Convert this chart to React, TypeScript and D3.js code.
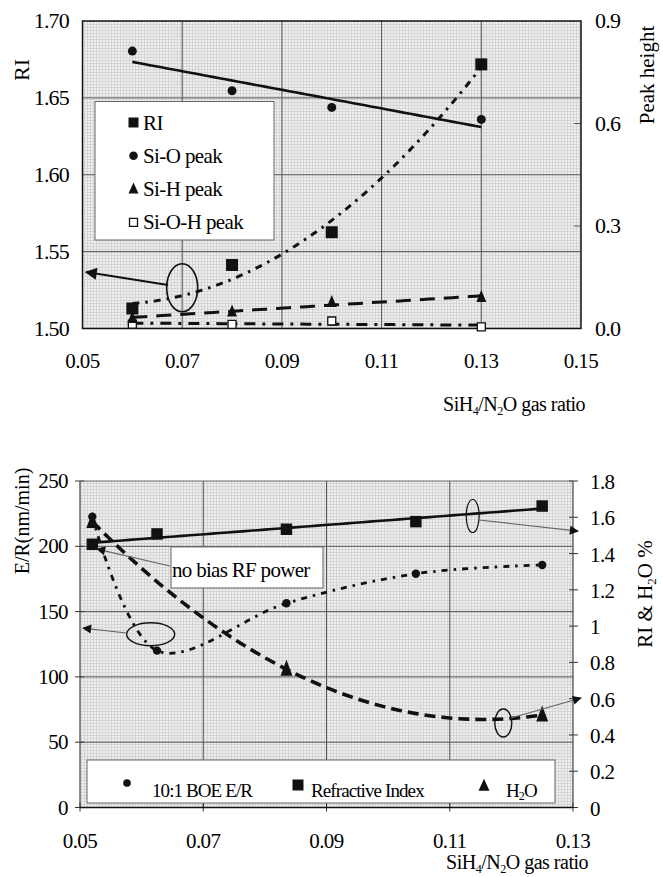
import React from "react";
import * as d3 from "d3";

const FONT = "Liberation Serif, Tinos, Times New Roman, serif";

// ---- upper chart: RI and IR peak heights vs gas ratio ----
const topRatio = [0.06, 0.08, 0.1, 0.13];
const topRI = [1.513, 1.5413, 1.5626, 1.6718];
const topSiO = [0.812, 0.696, 0.647, 0.612];
const topSiH = [0.03, 0.049, 0.0767, 0.0913];
const topSiOH = [0.013, 0.012, 0.022, 0.005];
const topXTicks = [0.05, 0.07, 0.09, 0.11, 0.13, 0.15];
const topRITicks = [1.5, 1.55, 1.6, 1.65, 1.7];
const topPeakTicks = [0, 0.3, 0.6, 0.9];

// ---- lower chart: BOE etch rate, RI, H2O vs gas ratio ----
const botRatio = [0.052, 0.0625, 0.0835, 0.1045, 0.125];
const botER = [222.7, 120.1, 156.4, 179.0, 185.7];
const botRI = [1.451, 1.508, 1.534, 1.576, 1.662];
const h2oRatio = [0.052, 0.0835, 0.125];
const h2oPct = [1.576, 0.762, 0.51];
const botXTicks = [0.05, 0.07, 0.09, 0.11, 0.13];
const botERTicks = [0, 50, 100, 150, 200, 250];
const botRightTicks = [0, 0.2, 0.4, 0.6, 0.8, 1, 1.2, 1.4, 1.6, 1.8];

// least squares polynomial (trend line, like a spreadsheet trendline)
function polyFit(xs: number[], ys: number[], deg: number) {
  const mx = d3.mean(xs) as number;
  const n = deg + 1;
  const A = Array.from({ length: n }, () => new Array(n + 1).fill(0));
  xs.forEach((x, k) => {
    const t = (x - mx) / 0.01;
    for (let i = 0; i < n; i++) {
      for (let j = 0; j < n; j++) A[i][j] += Math.pow(t, i + j);
      A[i][n] += ys[k] * Math.pow(t, i);
    }
  });
  for (let i = 0; i < n; i++) {
    let p = i;
    for (let r = i + 1; r < n; r++) if (Math.abs(A[r][i]) > Math.abs(A[p][i])) p = r;
    const tmp = A[i];
    A[i] = A[p];
    A[p] = tmp;
    for (let r = 0; r < n; r++) {
      if (r === i) continue;
      const f = A[r][i] / A[i][i];
      for (let c = i; c <= n; c++) A[r][c] -= f * A[i][c];
    }
  }
  const coef = A.map((row, i) => row[n] / row[i]);
  return (x: number) => {
    const t = (x - mx) / 0.01;
    return coef.reduce((s, c, i) => s + c * Math.pow(t, i), 0);
  };
}

function sampleFit(f: (x: number) => number, x0: number, x1: number) {
  return d3.range(0, 61).map((i) => {
    const x = x0 + ((x1 - x0) * i) / 60;
    return [x, f(x)] as [number, number];
  });
}

const sq = (x: number, y: number, s: number) => `M${x - s / 2},${y - s / 2}h${s}v${s}h${-s}Z`;
const tri = (x: number, y: number, w: number, h: number) =>
  `M${x},${y - h * 0.6}L${x + w / 2},${y + h * 0.4}L${x - w / 2},${y + h * 0.4}Z`;

const GasRatio = ({ x, y }: { x: number; y: number }) => (
  <text x={x} y={y} textAnchor="end" fontSize={20} fontFamily={FONT} letterSpacing={-0.5}>
    SiH<tspan fontSize={12} dy={4}>4</tspan>
    <tspan dy={-4}>/N</tspan>
    <tspan fontSize={12} dy={4}>2</tspan>
    <tspan dy={-4}>O gas ratio</tspan>
  </text>
);

function TopChart() {
  const x = d3.scaleLinear().domain([0.05, 0.15]).range([82.5, 581]);
  const yL = d3.scaleLinear().domain([1.5, 1.7]).range([328.5, 21]);
  const yR = d3.scaleLinear().domain([0, 0.9]).range([328.5, 21]);
  const [x0, x1] = x.range();
  const [yb, yt] = yL.range();

  const lineL = d3.line<[number, number]>().x((d) => x(d[0])).y((d) => yL(d[1]));
  const lineR = d3.line<[number, number]>().x((d) => x(d[0])).y((d) => yR(d[1]));
  const a = topRatio[0];
  const b = topRatio[topRatio.length - 1];

  const riFit = sampleFit(polyFit(topRatio, topRI, 2), a, b);
  const sioFit = sampleFit(polyFit(topRatio, topSiO, 1), a, b);
  const sihFit = sampleFit(polyFit(topRatio, topSiH, 1), a, b);
  const siohFit = sampleFit(polyFit(topRatio, topSiOH, 1), a, b);

  const legendItems = ["RI", "Si-O peak", "Si-H peak", "Si-O-H peak"];

  return (
    <g>
      <rect x={x0} y={yt} width={x1 - x0} height={yb - yt} fill="url(#halftone)" />
      {topRITicks.slice(1, -1).map((t) => (
        <line key={t} x1={x0} x2={x1} y1={yL(t)} y2={yL(t)} stroke="#555" strokeWidth={1} />
      ))}
      {topXTicks.slice(1, -1).map((t) => (
        <line key={t} x1={x(t)} x2={x(t)} y1={yt} y2={yb} stroke="#555" strokeWidth={1} />
      ))}
      {topPeakTicks.slice(1, -1).map((t) => (
        <line key={t} x1={x1 - 7} x2={x1} y1={yR(t)} y2={yR(t)} stroke="#555" strokeWidth={1} />
      ))}
      <rect x={x0} y={yt} width={x1 - x0} height={yb - yt} fill="none" stroke="#111" strokeWidth={1.5} />

      {/* legend box */}
      <rect x={95} y={101.5} width={179} height={138.5} fill="#fff" stroke="#666" strokeWidth={1} />
      {legendItems.map((t, i) => {
        const cy = 121.5 + i * 33.3;
        return (
          <g key={t}>
            {i === 0 && <path d={sq(133.5, cy + 1, 10)} fill="#111" />}
            {i === 1 && <circle cx={133.5} cy={cy + 1} r={4.3} fill="#111" />}
            {i === 2 && <path d={tri(133.5, cy + 1, 10, 11)} fill="#111" />}
            {i === 3 && <path d={sq(133.5, cy + 1, 8)} fill="#fff" stroke="#111" strokeWidth={1.3} />}
            <text x={143} y={cy + 8} fontSize={21} fontFamily={FONT} letterSpacing={-0.6}>
              {t}
            </text>
          </g>
        );
      })}

      {/* trend lines */}
      <path d={lineR(sioFit) as string} fill="none" stroke="#111" strokeWidth={2.6} />
      <path d={lineL(riFit) as string} fill="none" stroke="#111" strokeWidth={3} strokeDasharray="7 6 2.5 6" />
      <path d={lineR(sihFit) as string} fill="none" stroke="#111" strokeWidth={3} strokeDasharray="15 9" />
      <path d={lineR(siohFit) as string} fill="none" stroke="#111" strokeWidth={3} strokeDasharray="11 7 3 7" />

      {/* markers */}
      {topRatio.map((r, i) => (
        <g key={r}>
          <path d={sq(x(r), yR(topSiOH[i]), 8)} fill="#fff" stroke="#111" strokeWidth={1.3} />
          <path d={tri(x(r), yR(topSiH[i]), 10, 12)} fill="#111" />
          <circle cx={x(r)} cy={yR(topSiO[i])} r={4.5} fill="#111" />
          <path d={sq(x(r), yL(topRI[i]), 12)} fill="#111" />
        </g>
      ))}

      {/* ellipse pointing to the RI axis */}
      <ellipse cx={x(0.07)} cy={yL(1.5265)} rx={15.5} ry={24} fill="none" stroke="#111" strokeWidth={1.6} />
      <line
        x1={x(0.06715)}
        y1={yL(1.5283)}
        x2={x(0.0507)}
        y2={yL(1.5367)}
        stroke="#111"
        strokeWidth={2}
        markerEnd="url(#bigArrow)"
      />

      {/* axes labels */}
      {topRITicks.map((t) => (
        <text key={t} x={69} y={yL(t) + 7} textAnchor="end" fontSize={22} fontFamily={FONT} letterSpacing={-0.8}>
          {t.toFixed(2)}
        </text>
      ))}
      {topPeakTicks.map((t) => (
        <text key={t} x={595} y={yR(t) + 7} fontSize={22} fontFamily={FONT} letterSpacing={-0.8}>
          {t.toFixed(1)}
        </text>
      ))}
      {topXTicks.map((t) => (
        <text key={t} x={x(t)} y={368} textAnchor="middle" fontSize={21} fontFamily={FONT} letterSpacing={-0.6}>
          {t.toFixed(2)}
        </text>
      ))}
      <text transform="translate(29,70) rotate(-90)" textAnchor="middle" fontSize={22} fontFamily={FONT}>
        RI
      </text>
      <text transform="translate(654,75) rotate(-90)" textAnchor="middle" fontSize={21} fontFamily={FONT}>
        Peak height
      </text>
      <GasRatio x={585} y={411} />
    </g>
  );
}

function BottomChart() {
  const x = d3.scaleLinear().domain([0.05, 0.13]).range([80, 573]);
  const yL = d3.scaleLinear().domain([0, 250]).range([807.5, 481]);
  const yR = d3.scaleLinear().domain([0, 1.8]).range([807.5, 481]);
  const [x0, x1] = x.range();
  const [yb, yt] = yL.range();

  const lineR = d3.line<[number, number]>().x((d) => x(d[0])).y((d) => yR(d[1]));
  const erSmooth = d3
    .line<[number, number]>()
    .x((d) => x(d[0]))
    .y((d) => yL(d[1]))
    .curve(d3.curveCardinal.tension(0));

  const a = botRatio[0];
  const b = botRatio[botRatio.length - 1];
  const riFit = sampleFit(polyFit(botRatio, botRI, 1), a, b);
  const h2oFit = sampleFit(polyFit(h2oRatio, h2oPct, 2), h2oRatio[0], h2oRatio[2]);
  const erPts = botRatio.map((r, i) => [r, botER[i]] as [number, number]);

  const thin = { stroke: "#666", strokeWidth: 1.2, markerEnd: "url(#smallArrow)" };

  return (
    <g>
      <rect x={x0} y={yt} width={x1 - x0} height={yb - yt} fill="url(#halftone)" />
      {botERTicks.slice(1, -1).map((t) => (
        <line key={t} x1={x0} x2={x1} y1={yL(t)} y2={yL(t)} stroke="#555" strokeWidth={1} />
      ))}
      {botXTicks.slice(1, -1).map((t) => (
        <line key={t} x1={x(t)} x2={x(t)} y1={yt} y2={yb} stroke="#555" strokeWidth={1} />
      ))}
      {botERTicks.map((t) => (
        <line key={t} x1={x0 - 5} x2={x0 + 4} y1={yL(t)} y2={yL(t)} stroke="#333" strokeWidth={1} />
      ))}
      {botRightTicks.map((t) => (
        <line key={t} x1={x1 - 4} x2={x1 + 5} y1={yR(t)} y2={yR(t)} stroke="#333" strokeWidth={1} />
      ))}
      {botXTicks.map((t) => (
        <line key={t} x1={x(t)} x2={x(t)} y1={yb - 5} y2={yb + 4} stroke="#333" strokeWidth={1} />
      ))}
      <line x1={x0} x2={x0} y1={yt} y2={yb} stroke="#444" strokeWidth={1.2} />
      <line x1={x1} x2={x1} y1={yt} y2={yb} stroke="#444" strokeWidth={1.2} />
      <line x1={x0} x2={x1} y1={yb} y2={yb} stroke="#111" strokeWidth={1.5} />
      <line x1={x0} x2={x1} y1={yt} y2={yt} stroke="#666" strokeWidth={1} />

      {/* legend */}
      <rect x={87} y={760} width={468} height={43} fill="#fff" stroke="#666" strokeWidth={1} />
      <circle cx={127} cy={783} r={3.8} fill="#111" />
      <text x={152} y={797} fontSize={19} fontFamily={FONT} letterSpacing={-0.9}>
        10:1 BOE E/R
      </text>
      <path d={sq(298, 785, 11)} fill="#111" />
      <text x={311} y={797} fontSize={19} fontFamily={FONT} letterSpacing={-0.9}>
        Refractive Index
      </text>
      <path d={tri(484, 786, 11, 12)} fill="#111" />
      <text x={506} y={797} fontSize={19} fontFamily={FONT} letterSpacing={-0.9}>
        H<tspan fontSize={12} dy={3}>2</tspan>
        <tspan dy={-3}>O</tspan>
      </text>

      {/* annotation box */}
      <rect x={x(0.06477)} y={yL(199.5)} width={x(0.08943) - x(0.06477)} height={yL(168.1) - yL(199.5)} fill="#fff" stroke="#666" strokeWidth={1} />
      <text x={x(0.06477) + 1} y={577} fontSize={21} fontFamily={FONT} letterSpacing={-0.7}>
        no bias RF power
      </text>

      {/* trend lines */}
      <path d={lineR(riFit) as string} fill="none" stroke="#111" strokeWidth={2.6} />
      <path d={erSmooth(erPts) as string} fill="none" stroke="#111" strokeWidth={2.8} strokeDasharray="6 6 2.5 6" />
      <path d={lineR(h2oFit) as string} fill="none" stroke="#111" strokeWidth={3.6} strokeDasharray="11 6" />

      {/* markers */}
      {h2oRatio.map((r, i) => (
        <path key={r} d={tri(x(r), yR(h2oPct[i]), 12, 16)} fill="#111" />
      ))}
      {botRatio.map((r, i) => (
        <g key={r}>
          <circle cx={x(r)} cy={yL(botER[i])} r={4.2} fill="#111" />
          <path d={sq(x(r), yR(botRI[i]), 11.5)} fill="#111" />
        </g>
      ))}

      {/* annotation arrows and ellipses */}
      <line x1={x(0.0646)} y1={yL(184.9)} x2={x(0.05276)} y2={yL(197.9)} {...thin} />
      <ellipse cx={x(0.06147)} cy={yL(132.6)} rx={24} ry={11.5} fill="none" stroke="#111" strokeWidth={1.4} />
      <line x1={x(0.05755)} y1={yL(133.6)} x2={x(0.05049)} y2={yL(137.4)} {...thin} />
      <ellipse cx={x(0.11372)} cy={yR(1.607)} rx={6.5} ry={16.5} fill="none" stroke="#111" strokeWidth={1.2} />
      <line x1={x(0.11475)} y1={yR(1.585)} x2={x(0.13081)} y2={yR(1.524)} {...thin} />
      <ellipse cx={x(0.11869)} cy={yR(0.4658)} rx={8.5} ry={14} fill="none" stroke="#111" strokeWidth={1.4} />
      <line x1={x(0.11994)} y1={yR(0.4934)} x2={x(0.1313)} y2={yR(0.6037)} {...thin} />

      {/* axis labels */}
      {botERTicks.map((t) => (
        <text key={t} x={68} y={yL(t) + 7} textAnchor="end" fontSize={21} fontFamily={FONT} letterSpacing={-0.6}>
          {t}
        </text>
      ))}
      {botRightTicks.map((t) => (
        <text key={t} x={590} y={yR(t) + 8} fontSize={21} fontFamily={FONT} letterSpacing={-0.6}>
          {String(t)}
        </text>
      ))}
      {botXTicks.map((t) => (
        <text key={t} x={x(t)} y={848} textAnchor="middle" fontSize={21} fontFamily={FONT} letterSpacing={-0.6}>
          {t.toFixed(2)}
        </text>
      ))}
      <text transform="translate(29,521) rotate(-90)" textAnchor="middle" fontSize={20} fontFamily={FONT}>
        E/R(nm/min)
      </text>
      <text transform="translate(652,594) rotate(-90)" textAnchor="middle" fontSize={21} fontFamily={FONT}>
        RI &amp; H<tspan fontSize={13} dy={4}>2</tspan>
        <tspan dy={-4}>O %</tspan>
      </text>
      <GasRatio x={588} y={869} />
    </g>
  );
}

export default function App() {
  return (
    <svg
      width={663}
      height={877}
      viewBox="0 0 663 877"
      style={{ position: "absolute", left: 0, top: 0, background: "#fff" }}
    >
      <defs>
        <pattern id="halftone" width={3} height={3} patternUnits="userSpaceOnUse">
          <rect width={3} height={3} fill="#efefef" />
          <path d="M0,0.5H3M0.5,0V3" stroke="#d5d5d5" strokeWidth={1} />
        </pattern>
        <marker id="bigArrow" viewBox="0 0 10 10" refX={9} refY={5} markerWidth={18} markerHeight={12} markerUnits="userSpaceOnUse" orient="auto">
          <path d="M0,0L10,5L0,10Z" fill="#111" />
        </marker>
        <marker id="smallArrow" viewBox="0 0 10 10" refX={9} refY={5} markerWidth={12} markerHeight={9} markerUnits="userSpaceOnUse" orient="auto">
          <path d="M0,0L10,5L0,10Z" fill="#111" />
        </marker>
      </defs>
      <TopChart />
      <BottomChart />
    </svg>
  );
}
